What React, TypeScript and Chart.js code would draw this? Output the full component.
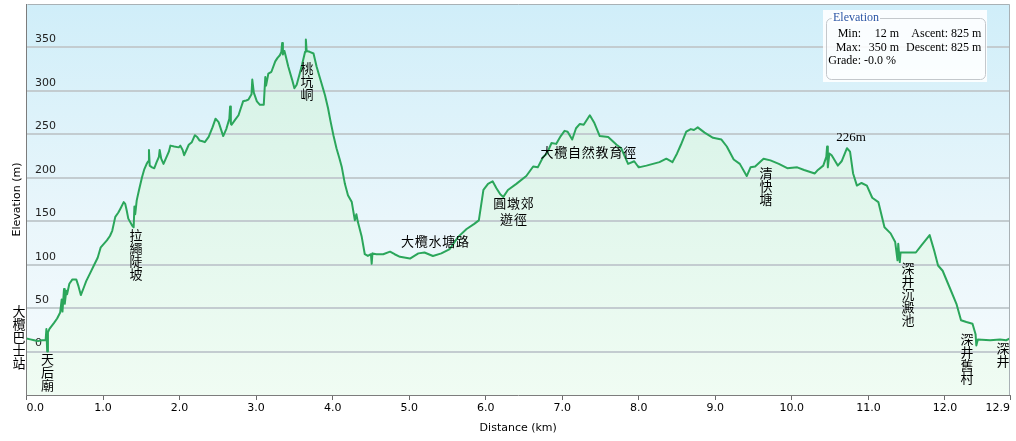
import React, { useEffect, useRef } from 'react';
import { Chart, registerables } from 'chart.js';

// ---------- data ----------
const distanceKm = [
  0.0, 0.05, 0.1, 0.15, 0.2, 0.25, 0.26, 0.27, 0.28, 0.3, 0.36, 0.4, 0.44, 0.46, 0.47, 0.49, 0.5, 0.52,
  0.53, 0.56, 0.6, 0.65, 0.68, 0.71, 0.75, 0.78, 0.83, 0.88, 0.93, 0.97, 1.01, 1.05, 1.09, 1.12, 1.16,
  1.2, 1.23, 1.27, 1.29, 1.31, 1.33, 1.38, 1.4, 1.41, 1.42, 1.44, 1.47, 1.51, 1.54, 1.57, 1.59, 1.6,
  1.61, 1.64, 1.67, 1.7, 1.73, 1.74, 1.76, 1.79, 1.83, 1.86, 1.88, 1.93, 1.99, 2.01, 2.04, 2.06, 2.09,
  2.12, 2.16, 2.2, 2.23, 2.26, 2.3, 2.33, 2.38, 2.43, 2.47, 2.51, 2.54, 2.57, 2.61, 2.65, 2.66, 2.67,
  2.68, 2.72, 2.77, 2.8, 2.83, 2.87, 2.9, 2.94, 2.95, 2.97, 3.01, 3.05, 3.1, 3.12, 3.13, 3.16, 3.2,
  3.25, 3.28, 3.31, 3.33, 3.34, 3.35, 3.37, 3.39, 3.42, 3.47, 3.5, 3.53, 3.57, 3.6, 3.64, 3.65, 3.66,
  3.7, 3.75, 3.79, 3.83, 3.86, 3.9, 3.94, 3.97, 4.01, 4.05, 4.09, 4.12, 4.16, 4.2, 4.25, 4.29, 4.31,
  4.33, 4.38, 4.42, 4.46, 4.5, 4.51, 4.52, 4.57, 4.66, 4.75, 4.81, 4.88, 5.01, 5.12, 5.2, 5.31, 5.42,
  5.53, 5.64, 5.75, 5.85, 5.91, 5.97, 6.03, 6.09, 6.14, 6.19, 6.23, 6.29, 6.4, 6.53, 6.62, 6.68, 6.75,
  6.8, 6.86, 6.92, 6.98, 7.03, 7.07, 7.13, 7.18, 7.23, 7.28, 7.36, 7.42, 7.49, 7.6, 7.71, 7.77, 7.86,
  7.94, 7.99, 8.0, 8.1, 8.27, 8.36, 8.44, 8.5, 8.55, 8.62, 8.68, 8.72, 8.77, 8.86, 8.97, 9.08, 9.15,
  9.24, 9.32, 9.41, 9.46, 9.52, 9.63, 9.72, 9.83, 9.94, 10.07, 10.16, 10.3, 10.34, 10.41, 10.45, 10.46,
  10.47, 10.49, 10.52, 10.6, 10.65, 10.72, 10.76, 10.8, 10.85, 10.91, 10.98, 11.05, 11.13, 11.21, 11.29,
  11.35, 11.38, 11.39, 11.41, 11.42, 11.49, 11.62, 11.69, 11.8, 11.86, 11.91, 11.97, 12.06, 12.15,
  12.21, 12.28, 12.36, 12.4, 12.41, 12.43, 12.59, 12.72, 12.8, 12.85,
];
const elevationM = [
  15, 14, 13, 12, 13, 13, 26, 0, 22, 26, 33, 38, 45, 60, 46, 72, 55, 70,
  66, 78, 83, 83, 75, 65, 74, 81, 90, 99, 108, 120, 124, 128, 133, 139, 155,
  160, 165, 172, 170, 162, 153, 145, 143, 167, 158, 174, 186, 201, 210, 216, 219, 232,
  214, 212, 211, 218, 224, 232, 222, 216, 224, 230, 237, 236, 235, 237, 232, 226, 232,
  238, 241, 249, 247, 243, 242, 241, 247, 258, 268, 264, 256, 248, 256, 268, 282, 262,
  261, 266, 272, 280, 288, 289, 290, 296, 313, 298, 288, 284, 284, 316, 306, 320, 322,
  334, 338, 341, 345, 355, 342, 346, 339, 328, 313, 303, 307, 320, 330, 345, 359, 346,
  345, 343, 328, 316, 307, 295, 280, 266, 249, 234, 222, 212, 193, 180, 172, 151, 158,
  149, 132, 112, 110, 112, 101, 113, 112, 112, 115, 112, 109, 107, 113, 114, 110, 113,
  118, 132, 141, 147, 151, 186, 193, 196, 188, 181, 178, 186, 193, 202, 213, 212, 224,
  228, 240, 239, 248, 254, 253, 244, 257, 262, 261, 272, 263, 248, 247, 238, 234, 216,
  219, 213, 212, 214, 218, 222, 218, 228, 238, 253, 256, 255, 258, 252, 246, 244, 236,
  221, 216, 202, 212, 213, 222, 220, 216, 211, 212, 209, 205, 209, 214, 224, 236,
  212, 228, 226, 214, 219, 234, 230, 205, 191, 194, 191, 177, 172, 143, 136,
  126, 105, 124, 103, 114, 114, 114, 122, 134, 116, 99, 93, 74, 55,
  36, 34, 32, 20, 7, 14, 13, 14, 13, 15,
];

const xMin = 0;
const xMax = 12.85;
const yMin = -50;
const yMax = 400;
const xTickValues = [0, 1, 2, 3, 4, 5, 6, 7, 8, 9, 10, 11, 12, 12.85];
const xTickLabels = ['0.0', '1.0', '2.0', '3.0', '4.0', '5.0', '6.0', '7.0', '8.0', '9.0', '10.0', '11.0', '12.0', '12.9'];
const yTickValues = [0, 50, 100, 150, 200, 250, 300, 350];
const yTickLabels = ['0', '50', '100', '150', '200', '250', '300', '350'];
const xTitle = 'Distance (km)';
const yTitle = 'Elevation (m)';

// place names along the route (anchor in km / metres)
const placeNames = ['大欖巴士站', '天后廟', '拉繩陡坡', '桃坑峒', '大欖水塘路', '圓墩郊\n遊徑', '大欖自然教育徑', '清快塘', '226m', '深井沉澱池', '深井舊村', '深井'];
const placeKm = [-0.098, 0.274, 1.431, 3.665, 5.337, 6.363, 7.34, 9.662, 10.772, 11.517, 12.288, 12.758];
const placeElev = [53.6, -1.7, 141, 333.2, 127.2, 161.2, 230, 212.4, 246.1, 103.4, 21.4, 11.3];
const placeVertical = [true, true, true, true, false, false, false, true, false, true, true, true];

// summary box
const statsTitle = 'Elevation';
const statMin = '12 m';
const statMax = '350 m';
const statAscent = '825 m';
const statDescent = '825 m';
const statGrade = '-0.0 %';

// ---------- plugins ----------
const chartAreaBg = {
  id: 'chartAreaBg',
  beforeDraw(chart: any) {
    const { ctx, chartArea: a } = chart;
    if (!a) return;
    const g = ctx.createLinearGradient(0, a.top, 0, a.bottom);
    g.addColorStop(0, '#d0eef9');
    g.addColorStop(0.55, '#e9f6fb');
    g.addColorStop(1, '#f6fbfd');
    ctx.save();
    ctx.fillStyle = g;
    ctx.fillRect(a.left, a.top, a.right - a.left, a.bottom - a.top);
    ctx.restore();
  },
};
Chart.register(chartAreaBg);
Chart.register(...registerables);

const CJK = '"Noto Sans CJK TC", "Noto Sans CJK SC", sans-serif';

const overlayPlugin = {
  id: 'overlay',
  afterDatasetsDraw(chart: any) {
    const { ctx, chartArea: a, scales } = chart;
    ctx.save();
    // frame top/right
    ctx.strokeStyle = '#a9b1b5';
    ctx.lineWidth = 1;
    ctx.beginPath();
    ctx.moveTo(Math.round(a.left) + 0.5, Math.round(a.top) + 0.5);
    ctx.lineTo(Math.round(a.right) - 0.5, Math.round(a.top) + 0.5);
    ctx.lineTo(Math.round(a.right) - 0.5, Math.round(a.bottom));
    ctx.stroke();

    ctx.fillStyle = '#000';
    placeNames.forEach((name, i) => {
      const px = scales.x.getPixelForValue(placeKm[i]);
      const py = scales.y.getPixelForValue(placeElev[i]);
      if (name === '226m') {
        ctx.font = '13px "Liberation Serif", serif';
        ctx.textAlign = 'center';
        ctx.textBaseline = 'middle';
        ctx.fillText(name, px, py);
        return;
      }
      ctx.font = '13px ' + CJK;
      ctx.textAlign = 'center';
      ctx.textBaseline = 'middle';
      if (placeVertical[i]) {
        Array.from(name).forEach((ch, j) => ctx.fillText(ch, px, py + 6.5 + j * 13));
      } else {
        const lines = name.split('\n');
        const lh = 16;
        lines.forEach((ln, k) => {
          const cy = py + (k - (lines.length - 1) / 2) * lh;
          const chars = Array.from(ln);
          const step = 13.8;
          const start = px - (chars.length * step) / 2 + step / 2;
          chars.forEach((ch, j) => ctx.fillText(ch, start + j * step, cy));
        });
      }
    });
    ctx.restore();
  },
  afterDraw(chart: any) {
    const { ctx, chartArea: a } = chart;
    const right = a.right - 23;
    const left = right - 164;
    const top = a.top + 6;
    ctx.save();
    ctx.fillStyle = 'rgba(255,255,255,0.88)';
    ctx.fillRect(left, top, 164, 72);
    // rounded border
    const bx = left + 3.5, by = top + 8.5, bw = 159, bh = 61, r = 5;
    ctx.strokeStyle = '#c4c8cc';
    ctx.lineWidth = 1;
    ctx.beginPath();
    ctx.moveTo(bx + r, by);
    ctx.lineTo(bx + bw - r, by);
    ctx.arcTo(bx + bw, by, bx + bw, by + r, r);
    ctx.lineTo(bx + bw, by + bh - r);
    ctx.arcTo(bx + bw, by + bh, bx + bw - r, by + bh, r);
    ctx.lineTo(bx + r, by + bh);
    ctx.arcTo(bx, by + bh, bx, by + bh - r, r);
    ctx.lineTo(bx, by + r);
    ctx.arcTo(bx, by, bx + r, by, r);
    ctx.closePath();
    ctx.stroke();
    // legend title
    ctx.font = '12px "Liberation Serif", serif';
    ctx.textBaseline = 'middle';
    ctx.textAlign = 'left';
    const tw = ctx.measureText(statsTitle).width;
    ctx.fillStyle = '#ffffff';
    ctx.fillRect(left + 9, by - 5, tw + 2, 10);
    ctx.fillStyle = '#2b56a6';
    ctx.fillText(statsTitle, left + 10, by - 1);
    // rows
    ctx.fillStyle = '#000';
    const c1 = left + 38, c2 = left + 76, c3 = left + 125, c4 = left + 128;
    const r1 = top + 24, r2 = top + 37.5, r3 = top + 51;
    ctx.textAlign = 'right';
    ctx.fillText('Min:', c1, r1);
    ctx.fillText('Max:', c1, r2);
    ctx.fillText('Grade:', c1, r3);
    ctx.fillText(statMin, c2, r1);
    ctx.fillText(statMax, c2, r2);
    ctx.fillText('Ascent:', c3, r1);
    ctx.fillText('Descent:', c3, r2);
    ctx.textAlign = 'left';
    ctx.fillText(statAscent, c4, r1);
    ctx.fillText(statDescent, c4, r2);
    ctx.fillText(statGrade, c1 + 3, r3);
    ctx.restore();
  },
};

const tickFont = { family: '"DejaVu Sans", Verdana, sans-serif', size: 11 };

export default function App() {
  const canvasRef = useRef<HTMLCanvasElement | null>(null);

  useEffect(() => {
    const canvas = canvasRef.current;
    if (!canvas) return;
    const chart = new Chart(canvas, {
      type: 'line',
      data: {
        datasets: [
          {
            data: distanceKm.map((x, i) => ({ x, y: elevationM[i] })),
            borderColor: '#2ba65b',
            borderWidth: 2,
            borderJoinStyle: 'round',
            pointRadius: 0,
            tension: 0,
            fill: 'start',
            backgroundColor: (c: any) => {
              const ar = c.chart.chartArea;
              if (!ar) return '#e4f7ee';
              const g = c.chart.ctx.createLinearGradient(0, ar.top, 0, ar.bottom);
              g.addColorStop(0, '#d2f1e5');
              g.addColorStop(1, '#f0fcf3');
              return g;
            },
          },
        ],
      },
      options: {
        animation: false,
        responsive: false,
        maintainAspectRatio: false,
        events: [],
        layout: { padding: { top: 4, right: 6, left: 0, bottom: 0 } },
        plugins: {
          legend: { display: false },
          tooltip: { enabled: false },
          filler: { drawTime: 'beforeDraw' },
        } as any,
        scales: {
          x: {
            type: 'linear',
            min: xMin,
            max: xMax,
            afterBuildTicks: (axis: any) => {
              axis.ticks = xTickValues.map((v) => ({ value: v }));
            },
            afterFit: (s: any) => {
              s.height = 46;
              s.paddingLeft = 0;
              s.paddingRight = 0;
            },
            ticks: {
              autoSkip: false,
              maxRotation: 0,
              padding: 2,
              align: 'inner',
              font: tickFont,
              color: '#000',
              callback: (_v: any, i: number) => xTickLabels[i] ?? '',
            },
            grid: { drawOnChartArea: false, drawTicks: true, tickLength: 5, color: '#6a6a6a' },
            border: { color: '#7c7c7c', width: 1 },
            title: { display: true, text: xTitle, font: tickFont, color: '#000', padding: { top: 0, bottom: 6.4 } },
          },
          y: {
            type: 'linear',
            min: yMin,
            max: yMax,
            afterBuildTicks: (axis: any) => {
              axis.ticks = [yMin, ...yTickValues, yMax].map((v) => ({ value: v }));
            },
            afterFit: (s: any) => {
              s.width = 26.5;
              s.paddingTop = 0;
              s.paddingBottom = 0;
            },
            ticks: {
              mirror: true,
              padding: 8.5,
              labelOffset: -8,
              font: tickFont,
              color: '#222',
              callback: (v: any) => {
                const i = yTickValues.indexOf(Number(v));
                return i >= 0 ? yTickLabels[i] : '';
              },
            },
            grid: {
              drawTicks: false,
              lineWidth: 2,
              color: (c: any) => (c.tick && yTickValues.includes(c.tick.value) ? '#c3ccd0' : 'rgba(0,0,0,0)'),
            },
            border: { color: '#7c7c7c', width: 1 },
            title: { display: true, text: yTitle, font: tickFont, color: '#000', padding: { top: 11, bottom: 0 } },
          },
        },
      } as any,
      plugins: [overlayPlugin],
    });
    return () => chart.destroy();
  }, []);

  return (
    <div style={{ position: 'absolute', left: 0, top: 0, width: 1016, height: 441, background: '#fff' }}>
      <canvas ref={canvasRef} width={1016} height={441} style={{ display: 'block', width: 1016, height: 441 }} />
    </div>
  );
}
